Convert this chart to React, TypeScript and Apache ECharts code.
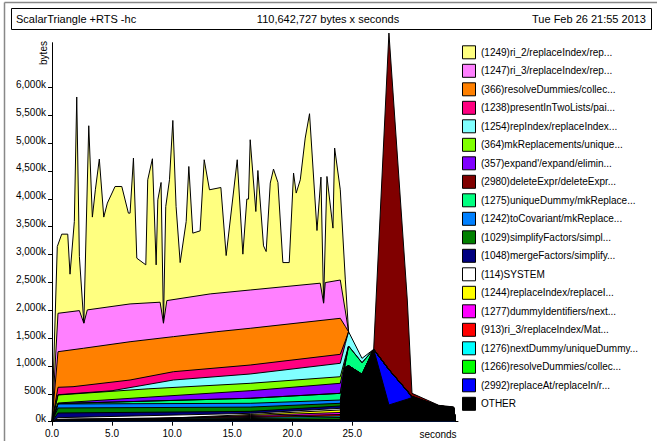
import React, { useEffect, useRef } from "react";
import * as echarts from "echarts";

const FONT = "'Liberation Sans', Arial, Helvetica, sans-serif";

const titleLeft = "ScalarTriangle +RTS -hc";
const titleCenter = "110,642,727 bytes x seconds";
const titleRight = "Tue Feb 26 21:55 2013";
const xAxisName = "seconds";
const yAxisName = "bytes";

const xTickValues = [0, 5, 10, 15, 20, 25];
const yTickValues = [0, 500, 1000, 1500, 2000, 2500, 3000, 3500, 4000, 4500, 5000, 5500, 6000];

const bandLabels = [
  "(1249)ri_2/replaceIndex/rep...",
  "(1247)ri_3/replaceIndex/rep...",
  "(366)resolveDummies/collec...",
  "(1238)presentInTwoLists/pai...",
  "(1254)repIndex/replaceIndex...",
  "(364)mkReplacements/unique...",
  "(357)expand'/expand/elimin...",
  "(2980)deleteExpr/deleteExpr...",
  "(1275)uniqueDummy/mkReplace...",
  "(1242)toCovariant/mkReplace...",
  "(1029)simplifyFactors/simpl...",
  "(1048)mergeFactors/simplify...",
  "(114)SYSTEM",
  "(1244)replaceIndex/replaceI...",
  "(1277)dummyIdentifiers/next...",
  "(913)ri_3/replaceIndex/Mat...",
  "(1276)nextDummy/uniqueDummy...",
  "(1266)resolveDummies/collec...",
  "(2992)replaceAt/replaceIn/r...",
  "OTHER",
];

const bandColors = [
  "#FFFF80", "#FF80FF", "#FF8000", "#FF0080", "#80FFFF",
  "#80FF00", "#8000FF", "#800000", "#00FF80", "#0080FF",
  "#008000", "#000080", "#FFFFFF", "#FFFF00", "#FF00FF",
  "#FF0000", "#00FFFF", "#00FF00", "#0000FF", "#000000",
];

// Upper edge of each band (cumulative heap, kbytes) at sample times (seconds)
const ri2Top: [number, number][] = [
  [0, 0], [0.44, 3143], [0.81, 3365], [1.31, 3365], [1.5, 2647], [1.86, 3592], [2.06, 5826],
  [2.28, 2963], [2.65, 1770], [3.06, 5310], [3.36, 3671], [3.61, 4161], [3.94, 4712],
  [4.31, 3671], [4.61, 3922], [5.25, 4220], [5.81, 4220], [6.36, 3742], [6.5, 3742],
  [6.78, 4730], [7.06, 2934], [7.81, 2814], [7.97, 4340], [8.36, 4718], [8.67, 2814],
  [8.81, 3981], [9.08, 4292], [9.28, 1770], [9.47, 3861], [9.78, 4340], [10.06, 5405],
  [10.33, 3861], [10.67, 2855], [11.17, 3592], [11.39, 4579], [11.72, 3383], [12.33, 3424],
  [12.67, 4700], [13.11, 4161], [14.06, 4202], [14.5, 2981], [15.42, 4700], [15.89, 3006],
  [16.22, 3994], [16.36, 3994], [16.5, 5059], [16.97, 3771], [17.14, 4507], [17.61, 3155],
  [17.83, 3053], [18.17, 4281], [18.44, 4533], [18.81, 4292], [19.22, 2855], [19.75, 2855],
  [20.11, 4461], [20.33, 4102], [20.67, 4340], [21.08, 5089], [21.44, 5526], [22.06, 3430],
  [22.39, 4389], [22.61, 2131], [22.89, 4400], [23.39, 3473], [23.53, 4910], [24.0, 4161],
  [24.42, 2544], [24.69, 1615],
];
const ri3Top: [number, number][] = [
  [0, 0], [0.5, 1945], [2.28, 1993], [2.65, 1767], [2.94, 2006], [6.5, 2113], [9.0, 2144],
  [9.28, 1767], [9.56, 2173], [13.17, 2293], [16.5, 2363], [22.33, 2485], [22.61, 2126],
  [22.75, 2496], [24.0, 2542], [24.42, 1986], [24.69, 1615],
];
const resolveTop: [number, number][] = [
  [0, 0], [0.5, 1256], [2.61, 1317], [6.5, 1435], [10.11, 1526], [13.72, 1615], [16.5, 1676],
  [24.0, 1855], [24.42, 1710], [24.69, 1615],
];
const presentTop: [number, number][] = [
  [0, 0], [0.5, 617], [1.75, 628], [6.5, 748], [10.11, 897], [16.5, 1017], [24.0, 1209],
  [24.42, 1450], [24.69, 1615],
];
const repIndexTop: [number, number][] = [
  [0, 0], [0.5, 484], [5.0, 556], [10.11, 748], [16.5, 856], [24.0, 1048], [24.42, 1401],
  [24.69, 1615], [25.81, 1137], [26.78, 1299],
];
const mkReplTop: [number, number][] = [
  [0, 0], [0.5, 479], [8.0, 590], [16.5, 689], [24.0, 807], [24.42, 1150], [24.69, 1358],
];
const expandTop: [number, number][] = [
  [0, 0], [0.5, 335], [8.0, 440], [16.5, 556], [24.0, 689], [24.42, 1100], [24.69, 1358],
];
const deleteExprTop: [number, number][] = [
  [0, 0], [0.5, 325], [16.5, 420], [24.0, 509], [24.42, 1050], [24.69, 1358], [25.81, 1058],
  [26.78, 1299], [28.05, 6973], [29.58, 2183], [29.97, 509], [32.2, 294], [33.44, 265], [33.6, 0],
];
const uniqueDummyTop: [number, number][] = [
  [0, 0], [0.5, 325], [16.5, 420], [24.0, 509], [24.42, 1050], [24.69, 1358], [25.81, 1058],
  [26.78, 1299], [28.05, 935], [29.58, 551], [29.97, 453], [32.2, 284], [33.44, 255], [33.6, 0],
];
const toCovTop: [number, number][] = [
  [0, 0], [0.5, 318], [16.5, 330], [24.0, 389], [24.42, 975], [24.69, 1005], [25.81, 850],
  [26.78, 1299], [28.05, 935], [29.58, 551], [29.97, 453], [32.2, 284], [33.44, 255], [33.6, 0],
];
const simplifyTop: [number, number][] = [
  [0, 0], [0.5, 246], [16.5, 262], [24.0, 330], [24.42, 975], [24.69, 1005], [25.81, 850],
  [26.78, 1299], [28.05, 935], [29.58, 551], [29.97, 453], [32.2, 284], [33.44, 255], [33.6, 0],
];
const mergeTop: [number, number][] = [
  [0, 0], [0.5, 156], [16.5, 185], [24.0, 282], [24.42, 975], [24.69, 1005], [25.81, 850],
  [26.78, 1299], [28.05, 935], [29.58, 551], [29.97, 453], [32.2, 284], [33.44, 255], [33.6, 0],
];
const systemTop: [number, number][] = [
  [0, 0], [0.5, 72], [16.5, 150], [24.0, 240], [24.42, 975], [24.69, 1005], [25.81, 850],
  [26.78, 1299], [28.05, 935], [29.58, 551], [29.97, 453], [32.2, 284], [33.44, 255], [33.6, 0],
];
const replaceIdxTop: [number, number][] = [
  [0, 0], [0.5, 40], [8.0, 48], [16.5, 129], [24.0, 210], [24.42, 975], [24.69, 1005],
  [25.81, 850], [26.78, 1299], [28.05, 935], [29.58, 551], [29.97, 438], [32.2, 269],
  [33.44, 240], [33.6, 0],
];
const dummyIdTop: [number, number][] = [
  [0, 0], [0.5, 40], [8.0, 44], [16.5, 111], [24.0, 165], [24.42, 958], [24.69, 987],
  [25.81, 820], [26.78, 1299], [28.05, 935], [29.58, 551], [29.97, 438], [32.2, 269],
  [33.44, 240], [33.6, 0],
];
const ri3MatTop: [number, number][] = [
  [0, 0], [0.5, 40], [16.5, 93], [24.0, 129], [24.42, 958], [24.69, 987], [25.81, 820],
  [26.78, 1299], [28.05, 935], [29.58, 551], [29.97, 438], [32.2, 269], [33.44, 240], [33.6, 0],
];
const nextDummyTop: [number, number][] = [
  [0, 0], [0.5, 40], [16.5, 75], [24.0, 102], [24.42, 958], [24.69, 987], [25.81, 820],
  [26.78, 1299], [28.05, 935], [29.58, 551], [29.97, 438], [32.2, 269], [33.44, 240], [33.6, 0],
];
const resolve2Top: [number, number][] = [
  [0, 0], [0.5, 40], [16.5, 57], [24.0, 75], [24.42, 958], [24.69, 987], [25.81, 820],
  [26.78, 1299], [28.05, 935], [29.58, 551], [29.97, 438], [32.2, 269], [33.44, 240], [33.6, 0],
];
const replaceAtTop: [number, number][] = [
  [0, 0], [0.5, 40], [16.5, 45], [24.0, 48], [24.42, 958], [24.69, 987], [25.81, 820],
  [26.78, 1299], [28.05, 935], [29.58, 551], [29.97, 438], [32.2, 269], [33.44, 240], [33.6, 0],
];
const otherTop: [number, number][] = [
  [0, 0], [0.5, 40], [16.5, 40], [24.0, 40], [24.42, 958], [24.69, 987], [25.81, 820],
  [26.78, 1299], [28.05, 300], [29.58, 404], [29.97, 434], [32.2, 269], [33.44, 240], [33.6, 0],
];

const bandTops = [
  ri2Top, ri3Top, resolveTop, presentTop, repIndexTop, mkReplTop, expandTop, deleteExprTop,
  uniqueDummyTop, toCovTop, simplifyTop, mergeTop, systemTop, replaceIdxTop, dummyIdTop,
  ri3MatTop, nextDummyTop, resolve2Top, replaceAtTop, otherTop,
];

export default function App() {
  const ref = useRef<HTMLDivElement>(null);

  useEffect(() => {
    if (!ref.current) return;
    const chart = echarts.init(ref.current, null, { renderer: "svg" });

    const series = bandTops.map((data, i) => ({
      name: bandLabels[i],
      type: "line",
      data,
      symbol: "none",
      showSymbol: false,
      silent: true,
      clip: false,
      lineStyle: { color: "#000", width: 1 },
      itemStyle: { color: bandColors[i] },
      areaStyle: { color: bandColors[i], opacity: 1 },
    }));

    const legendTop = 52.3;
    const legendGap = 18.5;
    const legendGraphics: any[] = [];
    bandLabels.forEach((label, i) => {
      const cy = legendTop + i * legendGap;
      legendGraphics.push({
        type: "rect",
        shape: { x: 462.5, y: cy - 6.5, width: 13, height: 13 },
        style: { fill: bandColors[i], stroke: "#000", lineWidth: 1 },
      });
      legendGraphics.push({
        type: "text",
        x: 481,
        y: cy,
        style: {
          text: label,
          fontSize: 10,
          fontFamily: FONT,
          fill: "#000",
          align: "left",
          verticalAlign: "middle",
        },
      });
    });

    chart.setOption({
      animation: false,
      backgroundColor: "#fff",
      grid: { left: 52, right: 199, top: 42.7, bottom: 19.3 },
      xAxis: {
        type: "value",
        min: 0,
        max: 33.8,
        axisLine: { show: true, onZero: false, lineStyle: { color: "#000", width: 1 } },
        axisTick: { show: true, customValues: xTickValues, length: 4, lineStyle: { color: "#000" } },
        axisLabel: {
          customValues: xTickValues,
          formatter: (v: number) => v.toFixed(1),
          margin: 7,
          fontSize: 10,
          fontFamily: FONT,
          color: "#000",
        },
        splitLine: { show: false },
      },
      yAxis: {
        type: "value",
        min: 0,
        max: 6800,
        axisLine: { show: true, lineStyle: { color: "#000", width: 1 } },
        axisTick: { show: true, customValues: yTickValues, length: 4, lineStyle: { color: "#000" } },
        axisLabel: {
          customValues: yTickValues,
          formatter: (v: number) => v.toLocaleString("en-US") + "k",
          margin: 6,
          fontSize: 10,
          fontFamily: FONT,
          color: "#000",
          verticalAlign: "bottom",
          lineHeight: 6,
        },
        splitLine: { show: false },
      },
      series,
      graphic: [
        {
          type: "line",
          shape: { x1: 4.5, y1: 2.5, x2: 4.5, y2: 441 },
          style: { stroke: "#888", lineWidth: 1.5 },
        },
        {
          type: "line",
          shape: { x1: 4.5, y1: 2.5, x2: 657, y2: 2.5 },
          style: { stroke: "#888", lineWidth: 1.5 },
        },
        {
          type: "rect",
          shape: { x: 11.5, y: 8.5, width: 640, height: 21 },
          style: { fill: "#fff", stroke: "#000", lineWidth: 1 },
        },
        {
          type: "text",
          x: 16,
          y: 19,
          style: { text: titleLeft, fontSize: 11, fontFamily: FONT, fill: "#000", align: "left", verticalAlign: "middle" },
        },
        {
          type: "text",
          x: 328,
          y: 19,
          style: { text: titleCenter, fontSize: 11, fontFamily: FONT, fill: "#000", align: "center", verticalAlign: "middle" },
        },
        {
          type: "text",
          x: 646,
          y: 19,
          style: { text: titleRight, fontSize: 11, fontFamily: FONT, fill: "#000", align: "right", verticalAlign: "middle" },
        },
        {
          type: "text",
          x: 43.5,
          y: 53,
          rotation: Math.PI / 2,
          style: { text: yAxisName, fontSize: 10, fontFamily: FONT, fill: "#000", align: "center", verticalAlign: "middle" },
        },
        {
          type: "text",
          x: 438,
          y: 434,
          style: { text: xAxisName, fontSize: 10, fontFamily: FONT, fill: "#000", align: "center", verticalAlign: "middle" },
        },
        ...legendGraphics,
      ],
    });

    return () => chart.dispose();
  }, []);

  return (
    <div
      ref={ref}
      style={{ position: "fixed", left: 0, top: 0, width: 657, height: 441 }}
    />
  );
}
